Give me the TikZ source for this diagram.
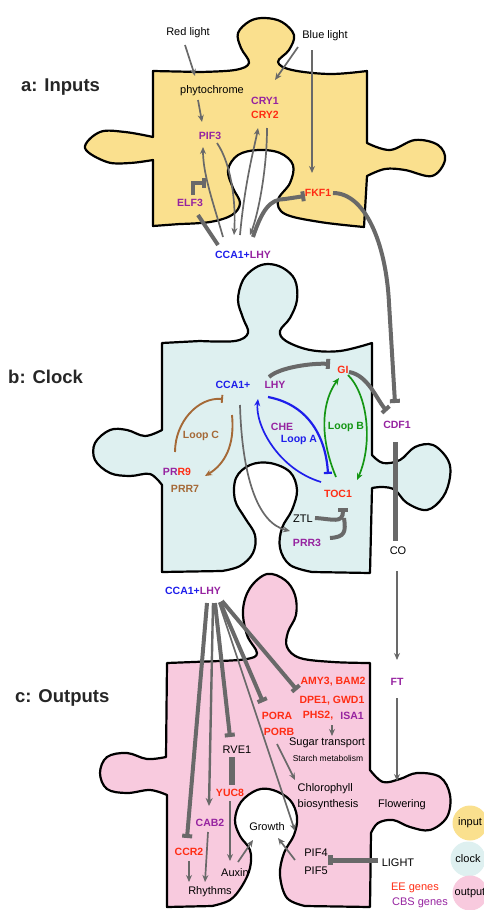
\documentclass[tikz,border=0pt]{standalone}
\usepackage{fontspec}
\setmainfont{Liberation Sans}
\usetikzlibrary{arrows.meta,calc}
\definecolor{yel}{RGB}{250,224,142}
\definecolor{lblue}{RGB}{222,240,240}
\definecolor{pinkc}{RGB}{248,202,222}
\definecolor{gblue}{RGB}{30,30,235}
\definecolor{gpurple}{RGB}{150,35,160}
\definecolor{gred}{RGB}{255,45,20}
\definecolor{gbrown}{RGB}{165,105,55}
\definecolor{ggreen}{RGB}{20,150,20}
\definecolor{arrgray}{RGB}{105,105,105}
\begin{document}
\begin{tikzpicture}[x=1pt,y=-1pt,
  piece/.style={draw=black, line width=2.2pt, line join=round},
  lab/.style={inner sep=0pt, font=\fontsize{11}{13}\selectfont},
  gene/.style={inner sep=0pt, font=\fontsize{10.5}{13}\selectfont\bfseries},
  head/.style={inner sep=0pt, anchor=west, font=\fontsize{18.5}{22}\selectfont\bfseries, text=black!85},
  tarr/.style={draw=arrgray, line width=1.7pt, -{Stealth[length=7pt,width=6pt]}},
  marr/.style={draw=arrgray, line width=2.4pt, -{Stealth[length=8pt,width=7pt]}},
  tbar/.style={draw=arrgray, line width=4pt, -{Bar[width=10pt]}},
  tline/.style={draw=arrgray, line width=4pt},
  blbar/.style={draw=gblue, line width=2.2pt, -{Bar[width=8pt]}},
  blarr/.style={draw=gblue, line width=1.7pt, -{Stealth[length=7pt,width=6pt]}},
  grarr/.style={draw=ggreen, line width=1.7pt, -{Stealth[length=7pt,width=6pt]}},
  brbar/.style={draw=gbrown, line width=1.9pt, -{Bar[width=8pt]}},
  brarr/.style={draw=gbrown, line width=1.9pt, -{Stealth[length=7pt,width=6pt]}},
  legc/.style={circle, inner sep=0pt, minimum size=35pt, font=\fontsize{11}{13}\selectfont}
]
\useasboundingbox (0,0) rectangle (484,910);
% ---------- puzzle pieces ----------
\path[piece, fill=yel] (153,71) -- (200,72) -- plot[smooth,tension=0.6] coordinates {(200,72) (235,70) (249,63) (241,48) (238,33) (250,21) (265,18) (282,22) (294,35) (289,50) (278,62) (292,70) (330,74) (367,71)} -- (367,143) -- plot[smooth,tension=0.6] coordinates {(367,143) (390,150) (415,140) (438,145) (445,160) (432,176) (405,170) (385,169) (367,176)} -- (364,227) -- plot[smooth,tension=0.6] coordinates {(364,227) (320,222) (285,214) (278,200) (290,183) (293,165) (280,153) (258,150) (238,155) (228,170) (233,188) (240,203) (232,215) (210,222) (180,224)} -- (153,226) -- (153,160) -- plot[smooth,tension=0.6] coordinates {(153,160) (130,163) (107,162) (85,148) (100,132) (125,132) (153,137)} -- cycle;
\path[piece, fill=lblue] (162,343) -- (200,341) -- plot[smooth,tension=0.6] coordinates {(200,341) (235,341) (248,333) (243,318) (238,300) (243,280) (255,268) (268,264) (283,268) (295,280) (297,300) (290,318) (280,331) (286,341) (310,350) (340,351) (372,343)} -- (372,455) -- plot[smooth,tension=0.6] coordinates {(372,455) (383,463) (400,460) (415,447) (433,445) (448,460) (450,477) (443,497) (427,510) (407,503) (395,490) (383,487) (372,488)} -- (370,573) -- (312,572) -- plot[smooth,tension=0.6] coordinates {(312,572) (290,565) (280,548) (282,528) (292,510) (297,490) (290,472) (270,463) (250,465) (236,478) (235,500) (245,518) (255,535) (253,553) (240,566) (222,571)} -- (162,572) -- (162,485) -- plot[smooth,tension=0.6] coordinates {(162,485) (150,474) (130,476) (110,473) (95,460) (95,443) (110,430) (127,430) (145,436) (162,430)} -- cycle;
\path[piece, fill=pinkc] (167,663) -- (220,661) -- plot[smooth,tension=0.6] coordinates {(220,661) (247,659) (257,653) (247,635) (243,610) (250,588) (267,574) (285,580) (295,595) (296,615) (288,632) (287,647) (300,658) (333,662) (370,663)} -- (370,770) -- plot[smooth,tension=0.6] coordinates {(370,770) (383,782) (400,779) (417,773) (440,777) (450,795) (447,817) (430,830) (410,827) (393,820) (378,823) (371,833)} -- (370,907) -- (305,906) -- plot[smooth,tension=0.6] coordinates {(305,906) (287,898) (280,875) (284,853) (294,835) (297,817) (290,800) (273,790) (257,790) (241,802) (235,820) (240,836) (250,850) (250,868) (242,886) (230,900) (212,906)} -- (167,907) -- (167,795) -- plot[smooth,tension=0.6] coordinates {(167,795) (150,790) (127,793) (107,789) (100,773) (107,757) (127,753) (147,759) (166,757)} -- cycle;
% ---------- legend ----------
\node[legc, fill=yel] (lin) at (470,823) {input};
\node[legc, fill=lblue] (lcl) at (468,859) {clock};
\node[legc, fill=pinkc] (lout) at (470,893) {output};
% ---------- headings ----------
\node[head] (ha) at (21,87) {a: Inputs};
\node[head] (hb) at (8,377) {b: Clock};
\node[head] (hc) at (15,698) {c: Outputs};
% ---------- a: inputs ----------
\node[lab] (red) at (188,33) {Red light};
\node[lab] (blue) at (325,36) {Blue light};
\node[lab] (phy) at (212,91) {phytochrome};
\node[gene,text=gpurple] (cry1) at (265,101) {CRY1};
\node[gene,text=gred] (cry2) at (265,115) {CRY2};
\node[gene,text=gpurple] (pif3) at (210,136) {PIF3};
\node[gene,text=gpurple] (elf3) at (190,203) {ELF3};
\node[gene,text=gred] (fkf1) at (318,193) {FKF1};
\node[gene] (ccaa) at (243,255) {\textcolor{gblue}{CCA1+}\textcolor{gpurple}{LHY}};
\draw[tarr] ($(red)+(-3,12)$) -- ($(phy)+(-17,-15)$);
\draw[tarr] ($(blue)+(-27,11)$) -- ($(cry1)+(10,-21)$);
\draw[tarr] ($(blue)+(-13,14)$) -- ($(fkf1)+(-6,-20)$);
\draw[tarr] ($(phy)+(-14,9)$) -- ($(pif3)+(-8,-14)$);
\draw[tarr] ($(ccaa)+(-20,-18)$) .. controls ($(ccaa)+(-29,-50)$) and ($(pif3)+(-7,39)$) .. ($(pif3)+(-7,11)$);
\draw[tarr] ($(pif3)+(7,7)$) .. controls ($(pif3)+(22,29)$) and ($(ccaa)+(-7,-50)$) .. ($(ccaa)+(-9,-20)$);
\draw[tarr] ($(ccaa)+(-3,-20)$) .. controls ($(ccaa)+(2,-75)$) and ($(cry2)+(-10,30)$) .. ($(cry2)+(-7,13)$);
\draw[tarr] ($(cry2)+(2,13)$) .. controls ($(cry2)+(2,55)$) and ($(ccaa)+(15,-40)$) .. ($(ccaa)+(7,-20)$);
\draw[tbar] ($(ccaa)+(10,-18)$) .. controls ($(ccaa)+(19,-45)$) and ($(fkf1)+(-48,6)$) .. ($(fkf1)+(-33,6)$) -- ($(fkf1)+(-13,3)$);
\draw[tline] ($(ccaa)+(-25,-10)$) -- ($(elf3)+(8,12)$);
\draw[tbar, line join=miter] ($(elf3)+(3,-8)$) -- ($(elf3)+(3,-20)$) -- ($(elf3)+(16,-20)$);
% ---------- b: clock ----------
\node[gene,text=gblue] (ccab) at (233,385) {CCA1+};
\node[gene,text=gpurple] (lhy) at (275,385) {LHY};
\node[gene,text=gred] (gi) at (343,370) {GI};
\node[gene,text=gpurple] (cdf1) at (397,425) {CDF1};
\node[gene,text=gpurple] (che) at (282,427) {CHE};
\node[gene,text=gblue] (loopa) at (299,440) {Loop A};
\node[gene,text=ggreen] (loopb) at (346,427) {Loop B};
\node[gene,text=gbrown] (loopc) at (201,436) {Loop C};
\node[gene] (prr9) at (177,472) {\textcolor{gpurple}{PR}\textcolor{gred}{R9}};
\node[gene,text=gbrown] (prr7) at (185,489) {PRR7};
\node[gene,text=gred] (toc1) at (338,494) {TOC1};
\node[lab] (ztl) at (303,519) {ZTL};
\node[gene,text=gpurple] (prr3) at (307,543) {PRR3};
\node[lab] (co) at (398,551) {CO};
\draw[tbar] ($(fkf1)+(15,0)$) .. controls ($(fkf1)+(47,0)$) and ($(fkf1)+(68,50)$) .. ($(fkf1)+(71,110)$) -- ($(cdf1)+(-2,-22)$);
\draw[tbar] ($(lhy)+(-6,-8)$) .. controls ($(lhy)+(5,-18)$) and ($(gi)+(-30,-7)$) .. ($(gi)+(-13,-6)$);
\draw[blbar] ($(lhy)+(-7,12)$) .. controls ($(lhy)+(35,20)$) and ($(toc1)+(-12,-55)$) .. ($(toc1)+(-10,-20)$);
\draw[blarr] ($(toc1)+(-17,-12)$) .. controls ($(toc1)+(-60,-25)$) and ($(lhy)+(-20,40)$) .. ($(lhy)+(-17,14)$);
\draw[grarr] ($(toc1)+(-2,-17)$) .. controls ($(toc1)+(-20,-60)$) and ($(gi)+(-20,30)$) .. ($(gi)+(-4,8)$);
\draw[grarr] ($(gi)+(5,5)$) .. controls ($(gi)+(25,25)$) and ($(toc1)+(35,-50)$) .. ($(toc1)+(19,-14)$);
\draw[tbar] ($(gi)+(6,2)$) .. controls ($(gi)+(25,5)$) and ($(cdf1)+(-20,-25)$) .. ($(cdf1)+(-10,-14)$);
\draw[tline, line width=5pt] ($(cdf1)+(-2,17)$) -- ($(co)+(-3,-10)$);
\draw[brbar] ($(prr9)+(-2,-20)$) .. controls ($(prr9)+(-2,-50)$) and ($(ccab)+(-35,12)$) .. ($(ccab)+(-10,14)$);
\draw[brarr] ($(ccab)+(-1,30)$) .. controls ($(ccab)+(2,60)$) and ($(prr7)+(40,-25)$) .. ($(prr7)+(20,-13)$);
\draw[tarr] ($(ccab)+(7,20)$) .. controls ($(ccab)+(9,90)$) and ($(prr3)+(-50,-20)$) .. ($(prr3)+(-17,-12)$);
\draw[tbar] ($(ztl)+(12,-1)$) .. controls ($(ztl)+(30,0)$) and ($(toc1)+(5,30)$) .. ($(toc1)+(5,14)$);
\draw[tline] ($(prr3)+(23,-5)$) .. controls ($(prr3)+(38,-6)$) and ($(toc1)+(8,38)$) .. ($(toc1)+(6,24)$);
% ---------- c: outputs ----------
\node[gene] (ccac) at (193,591) {\textcolor{gblue}{CCA1+}\textcolor{gpurple}{LHY}};
\node[gene,text=gpurple] (ft) at (397,682) {FT};
\node[gene,text=gred] (amy) at (333,682) {AMY3, BAM2};
\node[gene,text=gred] (dpe) at (332,701) {DPE1, GWD1};
\node[gene,text=gred] (pora) at (277,716) {PORA};
\node[gene,text=gred] (phs2) at (318,716) {PHS2,};
\node[gene,text=gpurple] (isa1) at (352,716) {ISA1};
\node[gene,text=gred] (porb) at (279,732) {PORB};
\node[lab] (sugar) at (327,743) {Sugar transport};
\node[lab,font=\fontsize{8.5}{10}\selectfont] (starch) at (328,758) {Starch metabolism};
\node[lab] (rve1) at (237,750) {RVE1};
\node[gene,text=gred] (yuc8) at (230,793) {YUC8};
\node[lab,align=left,font=\fontsize{11}{16}\selectfont] (chl) at (328,797) {Chlorophyll\\biosynthesis};
\node[lab] (flow) at (402,805) {Flowering};
\node[gene,text=gpurple] (cab2) at (210,823) {CAB2};
\node[lab] (growth) at (267,827) {Growth};
\node[gene,text=gred] (ccr2) at (189,852) {CCR2};
\node[lab,align=left,font=\fontsize{11}{18}\selectfont] (pif45) at (316,862) {PIF4\\PIF5};
\node[lab] (light) at (398,863) {LIGHT};
\node[lab] (auxin) at (235,873) {Auxin};
\node[lab] (rhy) at (210,892) {Rhythms};
\node[lab,text=gred] (ee) at (415,888) {EE genes};
\node[lab,text=gpurple] (cbs) at (420,903) {CBS genes};
\draw[tarr] ($(co)+(-1,20)$) -- ($(ft)+(0,-22)$);
\draw[tarr] ($(ft)+(0,16)$) -- ($(flow)+(-5,-24)$);
\draw[tbar] ($(ccac)+(14,12)$) -- ($(ccr2)+(-2,-14)$);
\draw[marr] ($(ccac)+(20,12)$) -- ($(cab2)+(-1,-17)$);
\draw[tbar] ($(ccac)+(22,12)$) -- ($(rve1)+(-7,-13)$);
\draw[tarr] ($(ccac)+(26,12)$) -- ($(pif45)+(-21,-31)$);
\draw[tbar] ($(ccac)+(27,11)$) -- ($(pora)+(-14,-14)$);
\draw[tbar] ($(ccac)+(29,10)$) -- ($(amy)+(-36,8)$);
\draw[tarr] ($(phs2)+(14,9)$) -- ($(sugar)+(5,-7)$);
\draw[tarr] ($(porb)+(-2,12)$) -- ($(chl)+(-33,-17)$);
\draw[tline, line width=6pt] ($(rve1)+(-5,7)$) -- ($(yuc8)+(2,-8)$);
\draw[tarr] ($(yuc8)+(0,8)$) -- ($(auxin)+(-5,-12)$);
\draw[tarr] ($(auxin)+(3,-11)$) -- ($(growth)+(-14,13)$);
\draw[tarr] ($(pif45)+(-21,-2)$) -- ($(growth)+(11,11)$);
\draw[tbar, line width=5pt] ($(light)+(-20,-3)$) -- ($(pif45)+(12,-2)$);
\draw[tarr] ($(ccr2)+(0,9)$) -- ($(rhy)+(-21,-10)$);
\draw[tarr] ($(cab2)+(-2,9)$) -- ($(rhy)+(-5,-10)$);
\end{tikzpicture}
\end{document}
